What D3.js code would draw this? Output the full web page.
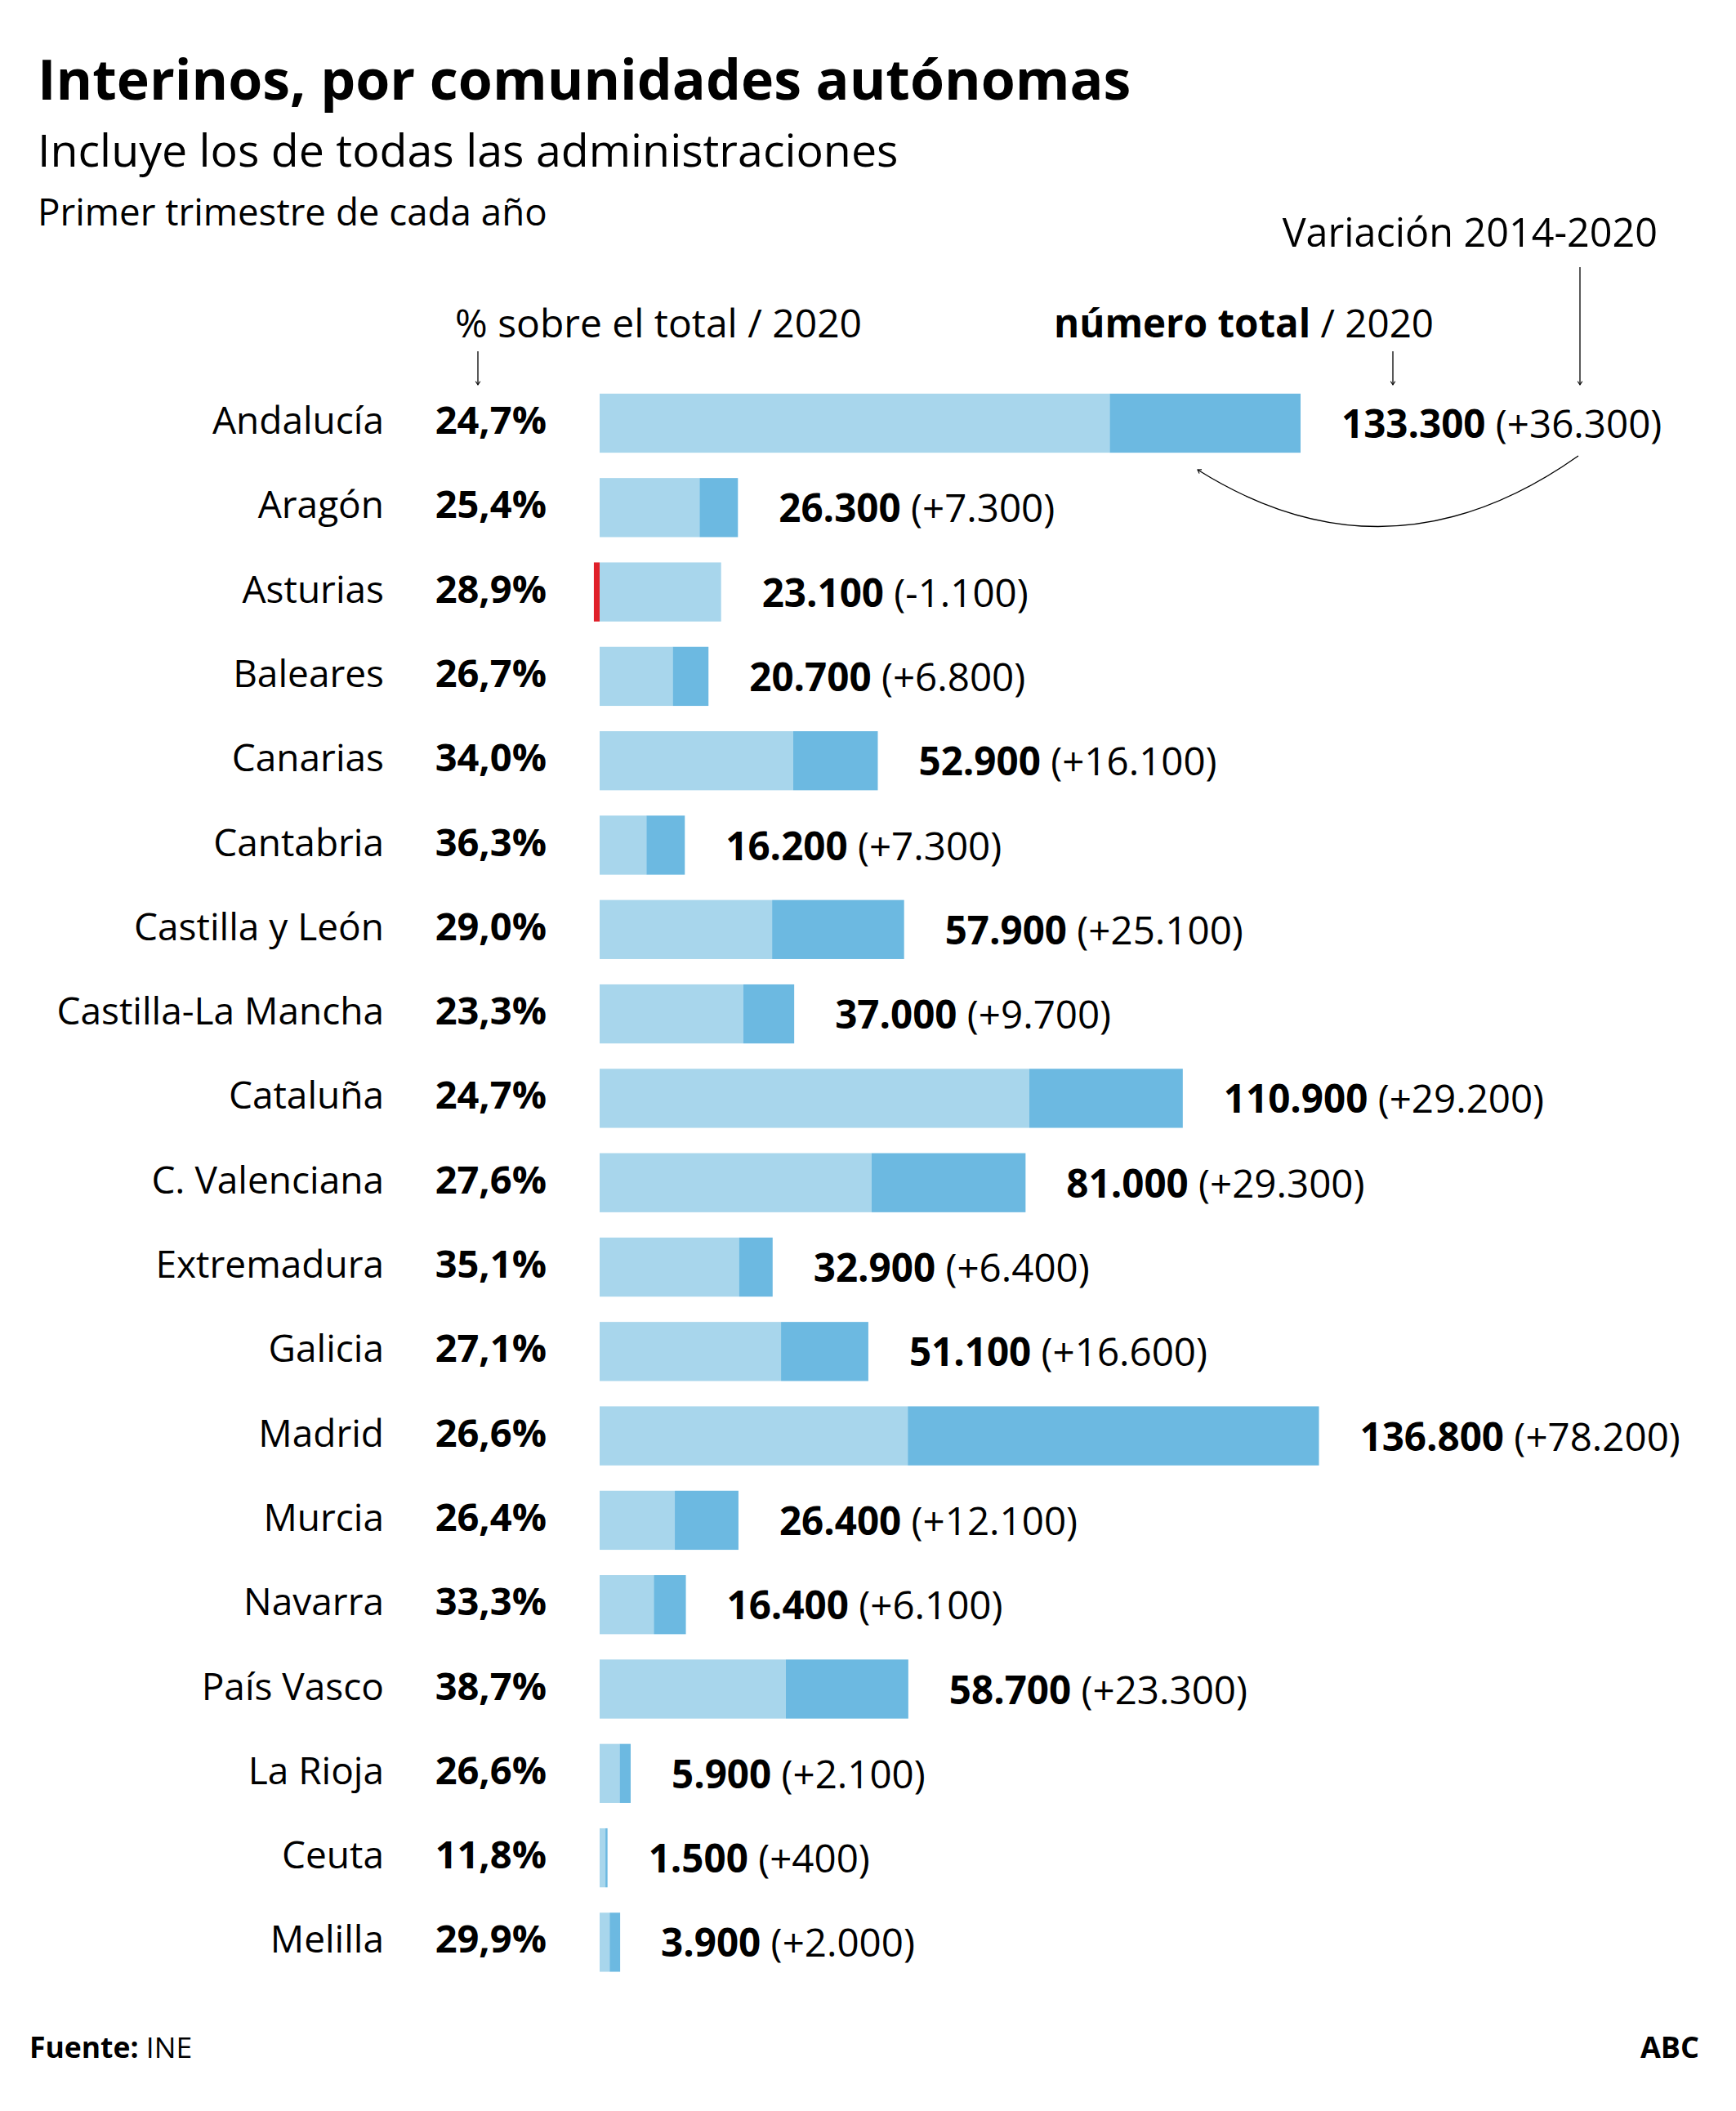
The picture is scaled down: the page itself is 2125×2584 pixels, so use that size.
<!DOCTYPE html>
<html><head><meta charset="utf-8">
<script src="https://cdn.jsdelivr.net/npm/d3@7"></script>
<style>
body{margin:0;background:#fff;}
svg text{font-family:"Open Sans",sans-serif;fill:#000;}
</style></head>
<body>
<svg id="chart" width="2125" height="2584"></svg>
<script>
const regions = ["Andalucía","Aragón","Asturias","Baleares","Canarias","Cantabria","Castilla y León","Castilla-La Mancha","Cataluña","C. Valenciana","Extremadura","Galicia","Madrid","Murcia","Navarra","País Vasco","La Rioja","Ceuta","Melilla"];
const pctTotal = [24.7,25.4,28.9,26.7,34.0,36.3,29.0,23.3,24.7,27.6,35.1,27.1,26.6,26.4,33.3,38.7,26.6,11.8,29.9];
const total2020 = [133300,26300,23100,20700,52900,16200,57900,37000,110900,81000,32900,51100,136800,26400,16400,58700,5900,1500,3900];
const variation = [36300,7300,-1100,6800,16100,7300,25100,9700,29200,29300,6400,16600,78200,12100,6100,23300,2100,400,2000];

const data = regions.map((r,i)=>({name:r,pct:pctTotal[i],total:total2020[i],vari:variation[i]}));

const loc = d3.formatLocale({decimal:",",thousands:".",grouping:[3],currency:["","€"]});
const fmtN = loc.format(",d");
const fmtP = loc.format(".1f");
const fmtV = v => (v>0?"+":"") + (v<0?"-"+fmtN(-v):fmtN(v));

const svg = d3.select("#chart");
const LIGHT="#a8d6ec", DARK="#6cb9e1", RED="#e0202a";

const step = 103.3;
const y = d3.scaleBand().domain(regions).range([466.35, 466.35+19*step]).paddingInner(0.3).paddingOuter(0.15);
const x = d3.scaleLinear().domain([0,133300]).range([734,1592]);

// Title block
svg.append("text").attr("x",46).attr("y",122).attr("font-size",68).attr("font-weight",700).text("Interinos, por comunidades autónomas");
svg.append("text").attr("x",46).attr("y",204).attr("font-size",55.5).text("Incluye los de todas las administraciones");
svg.append("text").attr("x",46).attr("y",276).attr("font-size",45.7).text("Primer trimestre de cada año");

// marker
const defs = svg.append("defs");
defs.append("marker").attr("id","arr").attr("viewBox","-10 -10 20 20").attr("refX",0).attr("refY",0)
  .attr("markerWidth",14).attr("markerHeight",14).attr("markerUnits","userSpaceOnUse").attr("orient","auto")
  .append("path").attr("d","M-6,-4 L0,0 L-6,4").attr("fill","none").attr("stroke","#000").attr("stroke-width",1.6);

// headers
svg.append("text").attr("x",557).attr("y",413).attr("font-size",48).text("% sobre el total / 2020");
const h2 = svg.append("text").attr("x",1755).attr("y",413).attr("font-size",47.5).attr("text-anchor","end");
h2.append("tspan").attr("font-weight",700).text("número total");
h2.append("tspan").text(" / 2020");
svg.append("text").attr("x",2029).attr("y",302).attr("font-size",48.5).attr("text-anchor","end").text("Variación 2014-2020");

const arrows = [[585,430,585,471],[1705,430,1705,471],[1934,327,1934,471]];
svg.selectAll("line.arr").data(arrows).join("line").attr("class","arr")
  .attr("x1",d=>d[0]).attr("y1",d=>d[1]).attr("x2",d=>d[2]).attr("y2",d=>d[3])
  .attr("stroke","#000").attr("stroke-width",1.3).attr("marker-end","url(#arr)");
svg.append("path").attr("d","M1932,558 Q1700,722 1466,575").attr("fill","none")
  .attr("stroke","#000").attr("stroke-width",1.3).attr("marker-end","url(#arr)");

// rows
const rows = svg.append("g").selectAll("g").data(data).join("g");
const bw = y.bandwidth();
rows.append("rect").attr("x",x(0)).attr("y",d=>y(d.name)).attr("height",bw)
  .attr("width",d=>x(Math.min(d.total,d.total-d.vari))-x(0)).attr("fill",LIGHT);
rows.filter(d=>d.vari>0).append("rect").attr("x",d=>x(d.total-d.vari)).attr("y",d=>y(d.name)).attr("height",bw)
  .attr("width",d=>x(d.total)-x(d.total-d.vari)).attr("fill",DARK);
rows.filter(d=>d.vari<0).append("rect").attr("x",d=>x(d.vari)).attr("y",d=>y(d.name)).attr("height",bw)
  .attr("width",d=>x(0)-x(d.vari)).attr("fill",RED);

rows.append("text").attr("x",470).attr("y",d=>y(d.name)+bw/2+13).attr("font-size",46).attr("text-anchor","end").text(d=>d.name);
rows.append("text").attr("x",669).attr("y",d=>y(d.name)+bw/2+13).attr("font-size",47).attr("font-weight",700).attr("text-anchor","end").text(d=>fmtP(d.pct)+"%");
const vl = rows.append("text").attr("x",d=>x(d.total)+50).attr("y",d=>y(d.name)+bw/2+18).attr("font-size",47.5);
vl.append("tspan").attr("font-weight",700).text(d=>fmtN(d.total));
vl.append("tspan").text(d=>" ("+fmtV(d.vari)+")");

// footer
const f = svg.append("text").attr("x",36).attr("y",2519).attr("font-size",35.5);
f.append("tspan").attr("font-weight",700).text("Fuente:");
f.append("tspan").text(" INE");
svg.append("text").attr("x",2080).attr("y",2519).attr("font-size",36).attr("font-weight",700).attr("text-anchor","end").text("ABC");
</script>
</body></html>
